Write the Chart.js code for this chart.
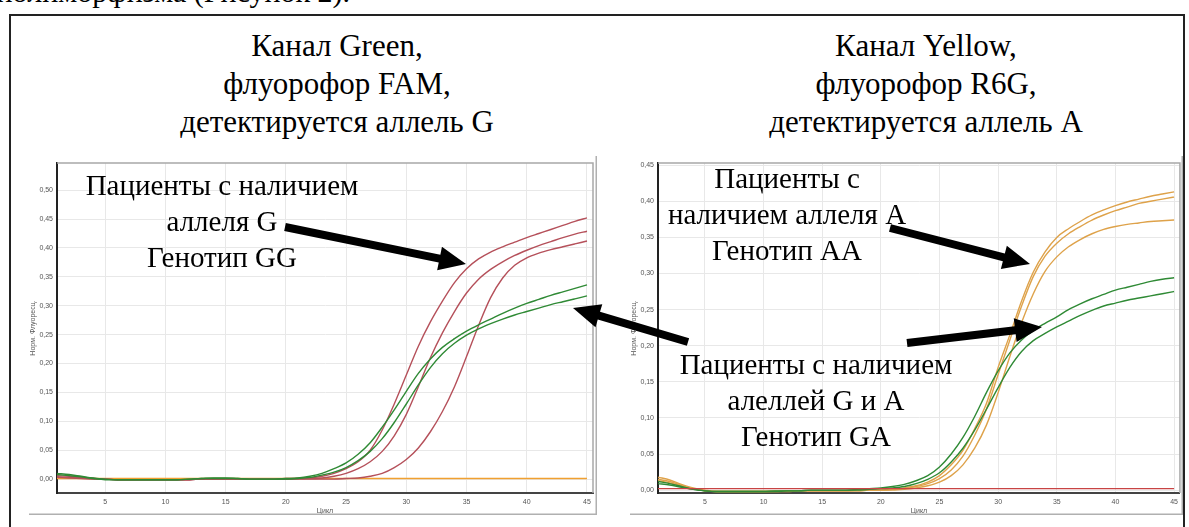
<!DOCTYPE html>
<html>
<head>
<meta charset="utf-8">
<script src="https://cdn.jsdelivr.net/npm/chart.js@4.4.0/dist/chart.umd.min.js"></script>
<style>
  html, body { margin: 0; padding: 0; background: #fff; }
  body { width: 1189px; height: 527px; position: relative; overflow: hidden; font-family: "Liberation Serif", "Times New Roman", serif; color: #000; }
  .box { position: absolute; left: 9px; top: 14px; width: 1172px; height: 540px; border: 2px solid #222; }
  .txt { position: absolute; font-size: 31px; line-height: 38px; text-align: center; white-space: nowrap; transform: translateX(-50%); }
  .note { font-size: 29px; line-height: 36px; }
  canvas { position: absolute; }
  svg { position: absolute; left: 0; top: 0; }
</style>
</head>
<body>
<div class="txt" style="left:auto; right:839px; top:-27px; transform:none; font-size:30px;">полиморфизма (Рисунок 2).</div>
<div class="box"></div>

<canvas id="famChart" width="568" height="363" style="left:29px; top:152px;"></canvas>
<canvas id="r6gChart" width="553" height="363" style="left:630px; top:152px;"></canvas>

<div class="txt" style="left:337px; top:27px;">Канал Green,<br>флуорофор FAM,<br>детектируется аллель G</div>
<div class="txt" style="left:926px; top:27px;">Канал Yellow,<br>флуорофор R6G,<br>детектируется аллель A</div>

<div class="txt note" style="left:222px; top:167px;">Пациенты с наличием<br>аллеля G<br>Генотип GG</div>
<div class="txt note" style="left:787px; top:160px;">Пациенты с<br>наличием аллеля A<br>Генотип AA</div>
<div class="txt note" style="left:816px; top:346px;">Пациенты с наличием<br>алеллей G и A<br>Генотип GA</div>

<svg id="arrows" width="1189" height="527"></svg>

<script>
// Циклы ПЦР (ось X)
const cycles = [1, 2, 3, 4, 5, 6, 7, 8, 9, 10, 11, 12, 13, 14, 15, 16, 17, 18, 19, 20,
  21, 22, 23, 24, 25, 26, 27, 28, 29, 30, 31, 32, 33, 34, 35, 36, 37, 38, 39, 40,
  41, 42, 43, 44, 45];

// Канал Green (FAM) - нормализованная флуоресценция
const famRed1 = [0.006, 0.005, 0.003, 0.001, 0.000, -0.001, -0.001, -0.001, -0.001, -0.001,
  -0.001, -0.001, 0.000, 0.000, 0.000, 0.000, 0.000, 0.000, 0.000, 0.001,
  0.001, 0.002, 0.005, 0.010, 0.018, 0.030, 0.050, 0.085, 0.130, 0.180,
  0.230, 0.272, 0.308, 0.340, 0.364, 0.381, 0.393, 0.402, 0.410, 0.418,
  0.425, 0.432, 0.439, 0.446, 0.452];
const famRed2 = [0.004, 0.003, 0.002, 0.001, 0.000, -0.001, -0.001, -0.001, -0.001, -0.001,
  -0.001, -0.001, 0.000, 0.000, 0.000, 0.000, 0.000, 0.000, 0.000, 0.000,
  0.001, 0.001, 0.002, 0.005, 0.010, 0.018, 0.030, 0.048, 0.075, 0.112,
  0.160, 0.210, 0.253, 0.290, 0.322, 0.346, 0.363, 0.376, 0.387, 0.396,
  0.404, 0.411, 0.418, 0.424, 0.429];
const famRed3 = [0.003, 0.002, 0.001, 0.000, 0.000, -0.001, -0.001, -0.001, -0.001, -0.001,
  -0.001, -0.001, 0.000, 0.000, 0.000, 0.000, 0.000, 0.000, 0.000, 0.000,
  0.000, 0.000, 0.000, 0.000, 0.001, 0.002, 0.005, 0.010, 0.020, 0.034,
  0.054, 0.082, 0.117, 0.160, 0.212, 0.266, 0.314, 0.348, 0.370, 0.383,
  0.391, 0.397, 0.402, 0.407, 0.412];
const famGreen1 = [0.010, 0.008, 0.005, 0.002, 0.000, -0.001, -0.001, -0.001, -0.001, -0.001,
  -0.001, 0.000, 0.001, 0.002, 0.002, 0.001, 0.000, 0.000, 0.000, 0.001,
  0.002, 0.005, 0.010, 0.018, 0.028, 0.043, 0.063, 0.090, 0.120, 0.152,
  0.183, 0.208, 0.228, 0.243, 0.256, 0.267, 0.277, 0.287, 0.296, 0.304,
  0.311, 0.318, 0.324, 0.330, 0.336];
const famGreen2 = [0.008, 0.006, 0.004, 0.001, -0.001, -0.001, -0.001, -0.001, -0.001, -0.001,
  -0.001, 0.000, 0.001, 0.001, 0.001, 0.001, 0.000, 0.000, 0.000, 0.000,
  0.001, 0.003, 0.007, 0.012, 0.020, 0.032, 0.048, 0.070, 0.098, 0.130,
  0.163, 0.193, 0.217, 0.235, 0.249, 0.260, 0.269, 0.277, 0.284, 0.290,
  0.296, 0.302, 0.307, 0.312, 0.317];
const famOrange = [0.001, 0.001, 0.001, 0.001, 0.001, 0.001, 0.001, 0.001, 0.001, 0.001,
  0.001, 0.001, 0.001, 0.001, 0.001, 0.001, 0.001, 0.001, 0.001, 0.001,
  0.001, 0.001, 0.001, 0.001, 0.001, 0.001, 0.001, 0.001, 0.001, 0.001,
  0.001, 0.001, 0.001, 0.001, 0.001, 0.001, 0.001, 0.001, 0.001, 0.001,
  0.001, 0.001, 0.001, 0.001, 0.001];

// Канал Yellow (R6G)
const r6gOrange1 = [0.018, 0.014, 0.008, 0.003, 0.000, -0.002, -0.002, -0.002, -0.002, -0.002,
  -0.001, -0.001, -0.001, -0.001, -0.001, -0.001, -0.001, 0.000, 0.000, 0.000,
  0.001, 0.003, 0.006, 0.011, 0.020, 0.035, 0.055, 0.085, 0.120, 0.170,
  0.215, 0.262, 0.302, 0.330, 0.350, 0.362, 0.372, 0.381, 0.388, 0.394,
  0.399, 0.403, 0.407, 0.410, 0.413];
const r6gOrange2 = [0.015, 0.012, 0.007, 0.002, -0.001, -0.002, -0.002, -0.002, -0.002, -0.002,
  -0.002, -0.001, -0.001, -0.001, -0.001, -0.001, -0.001, -0.001, 0.000, 0.000,
  0.001, 0.002, 0.005, 0.009, 0.016, 0.028, 0.047, 0.076, 0.112, 0.160,
  0.208, 0.255, 0.296, 0.324, 0.342, 0.355, 0.365, 0.374, 0.381, 0.387,
  0.392, 0.397, 0.400, 0.403, 0.406];
const r6gOrange3 = [0.013, 0.010, 0.006, 0.002, -0.001, -0.002, -0.002, -0.002, -0.002, -0.002,
  -0.002, -0.002, -0.001, -0.001, -0.001, -0.001, -0.001, -0.001, 0.000, 0.000,
  0.000, 0.001, 0.003, 0.006, 0.011, 0.020, 0.035, 0.058, 0.090, 0.135,
  0.185, 0.232, 0.272, 0.303, 0.323, 0.337, 0.347, 0.355, 0.361, 0.365,
  0.368, 0.370, 0.372, 0.373, 0.374];
const r6gGreen1 = [0.012, 0.009, 0.005, 0.001, -0.001, -0.002, -0.002, -0.002, -0.002, -0.002,
  -0.001, -0.001, -0.001, 0.000, 0.000, 0.000, 0.000, 0.001, 0.002, 0.003,
  0.005, 0.008, 0.013, 0.020, 0.032, 0.050, 0.073, 0.102, 0.135, 0.165,
  0.190, 0.208, 0.221, 0.231, 0.240, 0.250, 0.258, 0.265, 0.271, 0.277,
  0.281, 0.285, 0.289, 0.292, 0.294];
const r6gGreen2 = [0.009, 0.007, 0.004, 0.001, -0.001, -0.002, -0.002, -0.002, -0.002, -0.002,
  -0.002, -0.001, -0.001, 0.000, 0.000, 0.000, 0.000, 0.000, 0.001, 0.002,
  0.003, 0.005, 0.009, 0.015, 0.024, 0.039, 0.058, 0.083, 0.112, 0.142,
  0.170, 0.192, 0.207, 0.217, 0.226, 0.234, 0.242, 0.249, 0.255, 0.259,
  0.263, 0.266, 0.269, 0.272, 0.275];
const r6gRed = [0.002, 0.002, 0.002, 0.002, 0.002, 0.002, 0.002, 0.002, 0.002, 0.002,
  0.002, 0.002, 0.002, 0.002, 0.002, 0.002, 0.002, 0.002, 0.002, 0.002,
  0.002, 0.002, 0.002, 0.002, 0.002, 0.002, 0.002, 0.002, 0.002, 0.002,
  0.002, 0.002, 0.002, 0.002, 0.002, 0.002, 0.002, 0.002, 0.002, 0.002,
  0.002, 0.002, 0.002, 0.002, 0.002];

// Цвета кривых
const RED = '#b5505a';
const GREEN = '#2f8a35';
const ORANGE = '#f0a030';
const GOLD = '#dea24a';

// Набор данных для одной кривой
function curve(values, color) {
  return {
    data: values.map((v, i) => ({ x: cycles[i], y: v })),
    borderColor: color,
    borderWidth: 1.4,
    pointRadius: 0,
    cubicInterpolationMode: 'monotone',
    fill: false
  };
}

// Рамка области графика (верх и право)
const frame = {
  id: 'frame',
  afterDraw(chart) {
    const { ctx, chartArea: a } = chart;
    ctx.save();
    ctx.strokeStyle = '#a8a8a8';
    ctx.lineWidth = 1.5;
    ctx.beginPath();
    ctx.moveTo(a.left, a.top);
    ctx.lineTo(a.right, a.top);
    ctx.lineTo(a.right, a.bottom);
    ctx.stroke();
    // внешняя рамка снимка: низ и право
    ctx.strokeStyle = '#b0b0b0';
    ctx.lineWidth = 1.5;
    ctx.beginPath();
    ctx.moveTo(0, chart.height - 0.75);
    ctx.lineTo(chart.width - 0.75, chart.height - 0.75);
    ctx.lineTo(chart.width - 0.75, 4);
    ctx.stroke();
    ctx.restore();
  }
};

const tickFont = { family: 'Liberation Sans, Arial, sans-serif', size: 7 };

// Создание графика одного канала
function makeChart(id, datasets, yMin, yMax, padRight) {
  return new Chart(document.getElementById(id), {
    type: 'line',
    data: { datasets },
    options: {
      responsive: false,
      animation: false,
      layout: { padding: { top: 11, right: padRight, left: 0, bottom: 0 } },
      plugins: { legend: { display: false }, tooltip: { enabled: false } },
      scales: {
        x: {
          type: 'linear',
          min: 1,
          max: 45.5,
          ticks: { stepSize: 5, includeBounds: false, padding: 5, color: '#555', font: tickFont, maxRotation: 0 },
          grid: { color: '#e8e8e8', drawTicks: false },
          border: { color: '#444', width: 2 },
          title: { display: true, text: 'Цикл', color: '#555', font: tickFont, padding: 0 },
          afterFit: s => { s.height = 22; }
        },
        y: {
          min: yMin,
          max: yMax,
          ticks: {
            stepSize: 0.05, includeBounds: false, padding: 4, color: '#555', font: tickFont,
            callback: v => v.toFixed(2).replace('.', ',')
          },
          grid: { color: '#e8e8e8', drawTicks: false },
          border: { color: '#222', width: 2 },
          title: { display: true, text: 'Норм. Флуоресц.', color: '#555', font: tickFont, padding: 0 },
          afterFit: s => { s.width = 28; }
        }
      }
    },
    plugins: [frame]
  });
}

makeChart('famChart', [
  curve(famGreen1, GREEN),
  curve(famGreen2, GREEN),
  curve(famRed1, RED),
  curve(famRed2, RED),
  curve(famRed3, RED),
  curve(famOrange, ORANGE)
], -0.024, 0.547, 4);

makeChart('r6gChart', [
  curve(r6gRed, '#c84444'),
  curve(r6gGreen1, GREEN),
  curve(r6gGreen2, GREEN),
  curve(r6gOrange1, GOLD),
  curve(r6gOrange2, GOLD),
  curve(r6gOrange3, GOLD)
], -0.004, 0.453, 3);

// Стрелки-указатели
const arrows = [
  [285, 227, 466, 264],
  [688, 342, 573, 308],
  [890, 228, 1030, 264],
  [907, 343, 1042, 327]
];
const svg = document.getElementById('arrows');
arrows.forEach(([x1, y1, x2, y2]) => {
  const dx = x2 - x1, dy = y2 - y1, L = Math.hypot(dx, dy);
  const ux = dx / L, uy = dy / L, nx = -uy, ny = ux;
  const w = 4, hl = 27, hw = 12;
  const bx = x2 - ux * hl, by = y2 - uy * hl;
  const pts = [
    [x1 + nx * w, y1 + ny * w], [bx + nx * w, by + ny * w], [bx + nx * hw, by + ny * hw],
    [x2, y2], [bx - nx * hw, by - ny * hw], [bx - nx * w, by - ny * w], [x1 - nx * w, y1 - ny * w]
  ];
  const p = document.createElementNS('http://www.w3.org/2000/svg', 'polygon');
  p.setAttribute('points', pts.map(q => q.join(',')).join(' '));
  p.setAttribute('fill', '#000');
  svg.appendChild(p);
});
</script>
</body>
</html>
